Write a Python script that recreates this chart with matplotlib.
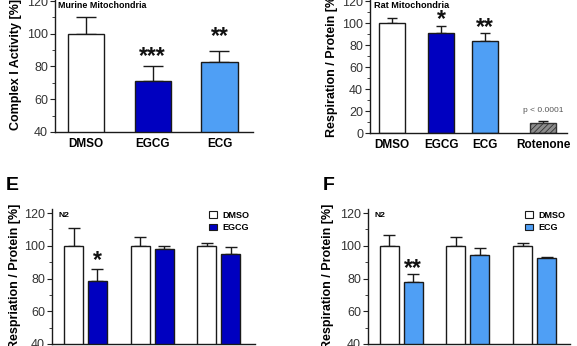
import matplotlib
matplotlib.use("Agg")
import matplotlib.pyplot as plt
from matplotlib.patches import Patch
from matplotlib.ticker import MultipleLocator

plt.rcParams["font.family"] = ["Liberation Sans", "DejaVu Sans"]
plt.rcParams["hatch.linewidth"] = 0.6

DARK_BLUE = "#0000c0"
LIGHT_BLUE = "#4f9ff5"
EDGE = "#1a1a1a"

# ---------------------------------------------------------------------------
# Data
# ---------------------------------------------------------------------------
# top-left: complex I activity, murine mitochondria
murine_labels = ["DMSO", "EGCG", "ECG"]
murine_vals = [100, 71, 83]
murine_err = [10, 9.5, 6.5]
murine_sig = ["", "***", "**"]

# top-right: respiration, rat mitochondria
rat_labels = ["DMSO", "EGCG", "ECG", "Rotenone"]
rat_vals = [100, 90.5, 83.5, 9.5]
rat_err = [5, 6.5, 7, 1.5]
rat_sig = ["", "*", "**", ""]

# bottom panels: N2 respiration, three groups
dmso_e = [100, 100, 100]
dmso_e_err = [11, 5.5, 1.8]
egcg_e = [78.5, 98, 95]
egcg_e_err = [7.5, 2, 4]
egcg_e_sig = ["*", "", ""]

dmso_f = [100, 100, 100]
dmso_f_err = [6.5, 5.5, 1.6]
ecg_f = [78, 94.5, 92.7]
ecg_f_err = [4.5, 4, 0.5]
ecg_f_sig = ["**", "", ""]

W, H = 577, 346
fig = plt.figure(figsize=(W / 100, H / 100), dpi=100)


def add_axes_px(x0, x1, y_bottom_px, px_per_unit, ylim):
    h = (ylim[1] - ylim[0]) * px_per_unit
    return fig.add_axes([x0 / W, 1 - y_bottom_px / H, (x1 - x0) / W, h / H])


def style(ax, ymajor, ylim, xlim):
    ax.set_ylim(*ylim)
    ax.set_xlim(*xlim)
    for s in ["top", "right"]:
        ax.spines[s].set_visible(False)
    for s in ["left", "bottom"]:
        ax.spines[s].set_color(EDGE)
        ax.spines[s].set_linewidth(1.0)
    ax.yaxis.set_major_locator(MultipleLocator(ymajor))
    ax.yaxis.set_minor_locator(MultipleLocator(ymajor / 2))
    ax.tick_params(axis="y", which="major", length=3.5, width=0.8, pad=1.5,
                   labelsize=9, colors="#222", labelcolor="#333")
    ax.tick_params(axis="y", which="minor", length=2, width=0.6, colors="#222")
    ax.tick_params(axis="x", length=0, pad=4)


def stars(ax, xs, tops, marks, gaps):
    # gaps: distance in px between error cap and star glyph
    for x, t, m, g in zip(xs, tops, marks, gaps):
        if m:
            ax.annotate(m, xy=(x, t), xytext=(0, (g - 3.5) / 1.389),
                        textcoords="offset points", ha="center", va="baseline",
                        fontsize=16.5, fontweight="bold", color="#111")


def errs(ax, xs, vals, err, cap):
    ax.errorbar(xs, vals, yerr=[[0] * len(err), err], fmt="none", ecolor=EDGE,
                elinewidth=1.0, capsize=cap, capthick=1.0, zorder=1)


def tops(vals, err):
    return [v + e for v, e in zip(vals, err)]


# ---------------------------------------------------------------------------
# Top-left
# ---------------------------------------------------------------------------
ylim_tl = (40, 122.5)
ax1 = add_axes_px(55, 253, 132, 1.6375, ylim_tl)
x1 = [0, 1, 2]
errs(ax1, x1, murine_vals, murine_err, 7)
ax1.bar(x1, murine_vals, width=0.54, color=["white", DARK_BLUE, LIGHT_BLUE],
        edgecolor=EDGE, linewidth=1.0, zorder=2)
style(ax1, 20, ylim_tl, (-0.464, 2.502))
ax1.set_xticks(x1)
ax1.set_xticklabels(murine_labels, fontsize=8.5, fontweight="bold")
ax1.set_ylabel("Complex I Activity [%]", fontsize=9, fontweight="bold")
ax1.yaxis.set_label_coords(-0.167, 0.5)
fig.text(58 / W, 1 - 0.5 / H, "Murine Mitochondria", fontsize=6.4,
         fontweight="bold", va="top", ha="left")
stars(ax1, x1, tops(murine_vals, murine_err), murine_sig, [0, 6, 11])

# ---------------------------------------------------------------------------
# Top-right
# ---------------------------------------------------------------------------
ylim_tr = (0, 125)
ax2 = add_axes_px(370, 567, 133, 1.1, ylim_tr)
x2 = [0, 1, 1.87, 3.06]
errs(ax2, x2, rat_vals, rat_err, 3.5)
bars = ax2.bar(x2, rat_vals, width=0.525,
               color=["white", DARK_BLUE, LIGHT_BLUE, "#8c8c8c"],
               edgecolor=EDGE, linewidth=1.0, zorder=2)
bars[3].set_hatch("//////")
bars[3].set_edgecolor("#333")
style(ax2, 20, ylim_tr, (-0.444, 3.535))
ax2.set_xticks(x2)
ax2.set_xticklabels(rat_labels, fontsize=8.5, fontweight="bold")
ax2.set_ylabel("Respiration / Protein [%]", fontsize=9, fontweight="bold")
ax2.yaxis.set_label_coords(-0.162, 0.5)
fig.text(374 / W, 1 - 0.5 / H, "Rat Mitochondria", fontsize=6.6,
         fontweight="bold", va="top", ha="left")
stars(ax2, x2, tops(rat_vals, rat_err), rat_sig, [0, 4, 3, 0])
ax2.text(x2[3], rat_vals[3] + rat_err[3] + 6, "p < 0.0001", fontsize=6,
         color="#555", ha="center", va="bottom")

# ---------------------------------------------------------------------------
# Bottom panels
# ---------------------------------------------------------------------------
ylim_b = (40, 122.5)


def group_panel(x0, x1, xlim, dmso, dmso_err, treat, treat_err, sig, gaps, color,
                name, ylabel, label_x, letter, letter_x):
    ax = add_axes_px(x0, x1, 344, 1.6375, ylim_b)
    g = [0, 1, 2]
    off = 0.18
    xd = [i - off for i in g]
    xt = [i + off for i in g]
    errs(ax, xd, dmso, dmso_err, 4)
    errs(ax, xt, treat, treat_err, 4)
    ax.bar(xd, dmso, width=0.285, color="white", edgecolor=EDGE, linewidth=1.0, zorder=2)
    ax.bar(xt, treat, width=0.285, color=color, edgecolor=EDGE, linewidth=1.0, zorder=2)
    style(ax, 20, ylim_b, xlim)
    ax.set_xticks([])
    ax.set_ylabel(ylabel, fontsize=9, fontweight="bold")
    ax.yaxis.set_label_coords(label_x, 0.5)
    ax.text(0.03, 0.975, "N2", transform=ax.transAxes, fontsize=6,
            fontweight="bold", va="top", ha="left")
    stars(ax, xt, tops(treat, treat_err), sig, gaps)
    handles = [Patch(facecolor="white", edgecolor=EDGE, linewidth=0.8, label="DMSO"),
               Patch(facecolor=color, edgecolor=EDGE, linewidth=0.8, label=name)]
    ax.legend(handles=handles, loc="upper left", bbox_to_anchor=(0.775, 0.985),
              frameon=False, handlelength=0.9, handleheight=0.8,
              handletextpad=0.6, labelspacing=0.35, borderpad=0,
              borderaxespad=0, prop={"size": 6.5, "weight": "bold"})
    fig.text(letter_x / W, 1 - 190 / H, letter, fontsize=14, fontweight="bold",
             ha="left", va="baseline")
    return ax


ax3 = group_panel(52, 255, (-0.503, 2.545), dmso_e, dmso_e_err, egcg_e, egcg_e_err,
                  egcg_e_sig, [5, 0, 0], DARK_BLUE, "EGCG",
                  "Respriation / Protein [%]", -0.153, "E", 6)
ax4 = group_panel(368, 570, (-0.498, 2.53), dmso_f, dmso_f_err, ecg_f, ecg_f_err,
                  ecg_f_sig, [3, 0, 0], LIGHT_BLUE, "ECG",
                  "Respiration / Protein [%]", -0.168, "F", 323)

plt.savefig("out.png", dpi=100)
